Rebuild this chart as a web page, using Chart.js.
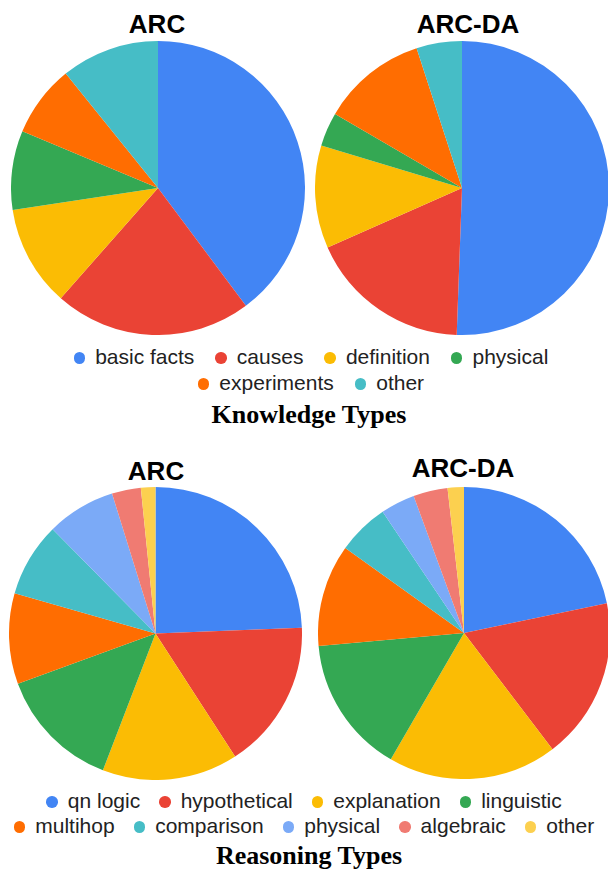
<!DOCTYPE html>
<html>
<head>
<meta charset="utf-8">
<script src="https://cdn.jsdelivr.net/npm/chart.js@4.4.0/dist/chart.umd.min.js"></script>
<style>
    html, body { margin: 0; padding: 0; background: #fff; }
    body { width: 608px; height: 873px; position: relative; overflow: hidden; }
    .pie { position: absolute; }
    .title { position: absolute; width: 200px; text-align: center; font: bold 26px "Liberation Sans", Arial, sans-serif; line-height: 26px; color: #000; }
    .caption { position: absolute; left: 0; width: 618px; text-align: center; font: bold 26px "Liberation Serif", "Times New Roman", serif; line-height: 26px; color: #000; }
    .legend-row { position: absolute; display: flex; justify-content: center; font: 21px "Liberation Sans", Arial, sans-serif; line-height: 21px; color: #222; white-space: nowrap; }
    .legend-item { display: flex; align-items: center; margin: 0 9.5px; }
    .wide .legend-item { margin: 0 10.5px; }
    .dot { width: 11.5px; height: 11.5px; border-radius: 50%; margin-right: 10px; position: relative; top: 1.5px; }
</style>
</head>
<body>
<div class="title" style="left:57px; top:11px;">ARC</div>
<div class="title" style="left:368px; top:11px;">ARC-DA</div>
<canvas id="arcKnowledge" class="pie" width="294" height="294" style="left:11px; top:41px;"></canvas>
<canvas id="arcdaKnowledge" class="pie" width="294" height="294" style="left:315px; top:41px;"></canvas>
<div id="legendK1" class="legend-row wide" style="left:14px; width:594px; top:346px;"></div>
<div id="legendK2" class="legend-row wide" style="left:14px; width:594px; top:372px;"></div>
<div class="caption" style="top:402px;">Knowledge Types</div>

<div class="title" style="left:56px; top:458px;">ARC</div>
<div class="title" style="left:363px; top:455px;">ARC-DA</div>
<canvas id="arcReasoning" class="pie" width="293" height="293" style="left:9px; top:487px;"></canvas>
<canvas id="arcdaReasoning" class="pie" width="292" height="292" style="left:318px; top:487px;"></canvas>
<div id="legendR1" class="legend-row" style="left:0; width:608px; top:790px;"></div>
<div id="legendR2" class="legend-row" style="left:0; width:608px; top:815px;"></div>
<div class="caption" style="top:843px;">Reasoning Types</div>

<script>
// Knowledge types
const knowledgeLabels = ['basic facts', 'causes', 'definition', 'physical', 'experiments', 'other'];
const arcKnowledge = [39.8, 21.7, 11.1, 8.7, 7.9, 10.8];
const arcdaKnowledge = [50.6, 17.8, 11.3, 3.75, 11.6, 5.0];

// Reasoning types
const reasoningLabels = ['qn logic', 'hypothetical', 'explanation', 'linguistic', 'multihop', 'comparison', 'physical', 'algebraic', 'other'];
const arcReasoning = [24.4, 16.5, 15.0, 13.6, 10.0, 8.2, 7.6, 3.2, 1.6];
const arcdaReasoning = [21.7, 17.9, 18.7, 15.2, 11.3, 5.7, 3.8, 3.8, 1.8];

const palette = ['#4285F4', '#EA4335', '#FBBC04', '#34A853', '#FF6D01', '#46BDC6', '#7BAAF7', '#F07B72', '#FCD04F'];

function makePie(id, labels, values) {
    const ctx = document.getElementById(id).getContext('2d');
    return new Chart(ctx, {
        type: 'pie',
        data: {
            labels: labels,
            datasets: [{
                data: values,
                backgroundColor: palette.slice(0, labels.length),
                borderWidth: 0,
                hoverOffset: 0
            }]
        },
        options: {
            responsive: false,
            animation: false,
            devicePixelRatio: 1,
            layout: { padding: 0 },
            plugins: {
                legend: { display: false },
                tooltip: { enabled: false }
            }
        }
    });
}

// Shared legend under each pair of pies
function fillLegend(rowId, labels, from, to) {
    const row = document.getElementById(rowId);
    for (let i = from; i < to; i++) {
        const item = document.createElement('div');
        item.className = 'legend-item';
        const dot = document.createElement('span');
        dot.className = 'dot';
        dot.style.background = palette[i];
        const text = document.createElement('span');
        text.textContent = labels[i];
        item.appendChild(dot);
        item.appendChild(text);
        row.appendChild(item);
    }
}

makePie('arcKnowledge', knowledgeLabels, arcKnowledge);
makePie('arcdaKnowledge', knowledgeLabels, arcdaKnowledge);
makePie('arcReasoning', reasoningLabels, arcReasoning);
makePie('arcdaReasoning', reasoningLabels, arcdaReasoning);

fillLegend('legendK1', knowledgeLabels, 0, 4);
fillLegend('legendK2', knowledgeLabels, 4, 6);
fillLegend('legendR1', reasoningLabels, 0, 4);
fillLegend('legendR2', reasoningLabels, 4, 9);
</script>
</body>
</html>
